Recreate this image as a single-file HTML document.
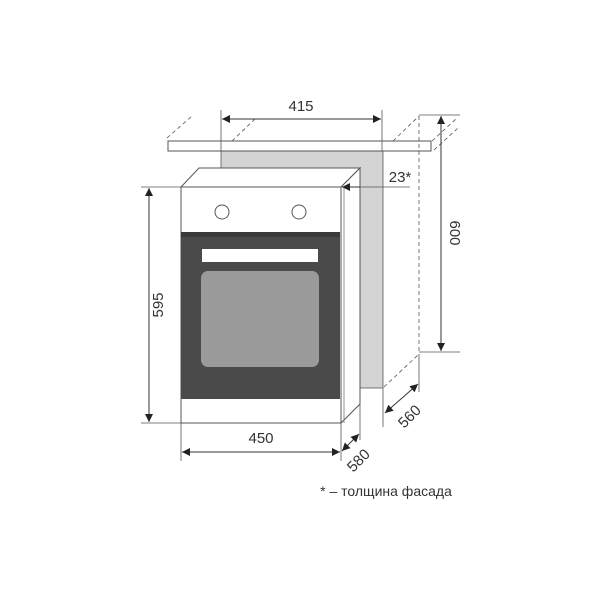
<!DOCTYPE html>
<html><head><meta charset="utf-8"><style>
html,body{margin:0;padding:0;background:#fff;}
svg{display:block}
text{font-family:"Liberation Sans",sans-serif;fill:#333;}
</style></head><body>
<svg width="600" height="600" viewBox="0 0 600 600" xmlns="http://www.w3.org/2000/svg">
<defs>
<marker id="a" viewBox="0 0 10 10" refX="10" refY="5" markerWidth="12" markerHeight="8" orient="auto-start-reverse" markerUnits="userSpaceOnUse"><path d="M0,0 L10,5 L0,10 z" fill="#222"/></marker>
</defs>
<rect x="221" y="151" width="162" height="237" fill="#d4d4d4" stroke="#555" stroke-width="0.8"/>
<rect x="168" y="141" width="263" height="10" fill="#fff" stroke="#555" stroke-width="1"/>
<path d="M181,187 L199,168 L360,168 L341,187 Z" fill="#fff" stroke="#555" stroke-width="1"/>
<path d="M341,187 L360,168 L360,404 L341,423 Z" fill="#fff" stroke="#555" stroke-width="1"/>
<line x1="344" y1="187" x2="344" y2="423" stroke="#777" stroke-width="0.8"/>
<rect x="181" y="187" width="160" height="236" fill="#fff" stroke="#555" stroke-width="1"/>
<circle cx="222" cy="212" r="7" fill="#fff" stroke="#555" stroke-width="1"/>
<circle cx="299" cy="212" r="7" fill="#fff" stroke="#555" stroke-width="1"/>
<rect x="181" y="232" width="159" height="167" fill="#4a4a4a"/>
<rect x="181" y="232" width="159" height="5" fill="#3a3a3a"/>
<rect x="202" y="249" width="116" height="13" fill="#fff"/>
<rect x="201" y="271" width="118" height="96" rx="7" fill="#9a9a9a"/>
<g stroke="#555" stroke-width="0.8" stroke-dasharray="4,3" fill="none">
<line x1="167" y1="138" x2="192" y2="116"/>
<line x1="232" y1="141" x2="257" y2="117"/>
<line x1="393" y1="141" x2="419" y2="116"/>
<line x1="432" y1="141" x2="457" y2="118"/>
<line x1="434" y1="150" x2="458" y2="128"/>
<line x1="419" y1="116" x2="419" y2="352"/>
<line x1="384" y1="387" x2="419" y2="354"/>
</g>
<g stroke="#555" stroke-width="0.8">
<line x1="221" y1="110" x2="221" y2="151"/>
<line x1="382" y1="110" x2="382" y2="151"/>
<line x1="141" y1="187" x2="181" y2="187"/>
<line x1="141" y1="423" x2="181" y2="423"/>
<line x1="419" y1="115" x2="460" y2="115"/>
<line x1="419" y1="352" x2="460" y2="352"/>
<line x1="181" y1="423" x2="181" y2="461"/>
<line x1="341" y1="423" x2="341" y2="461"/>
<line x1="360" y1="404" x2="360" y2="440"/>
<line x1="383" y1="388" x2="383" y2="427"/>
<line x1="419" y1="354" x2="419" y2="392"/>
<line x1="360" y1="187" x2="410" y2="187"/>
</g>
<g stroke="#333" stroke-width="1" fill="none">
<line x1="222" y1="119" x2="381" y2="119" marker-start="url(#a)" marker-end="url(#a)"/>
<line x1="149" y1="188" x2="149" y2="422" marker-start="url(#a)" marker-end="url(#a)"/>
<line x1="441" y1="116" x2="441" y2="351" marker-start="url(#a)" marker-end="url(#a)"/>
<line x1="182" y1="452" x2="340" y2="452" marker-start="url(#a)" marker-end="url(#a)"/>
<line x1="342" y1="451" x2="359" y2="434" marker-start="url(#a)" marker-end="url(#a)"/>
<line x1="385" y1="413" x2="418" y2="384" marker-start="url(#a)" marker-end="url(#a)"/>
<line x1="360" y1="187" x2="342" y2="187" marker-end="url(#a)"/>
</g>
<text x="301" y="111" font-size="15" text-anchor="middle">415</text>
<text x="400" y="182" font-size="15" text-anchor="middle">23*</text>
<text x="261" y="443" font-size="15" text-anchor="middle">450</text>
<text transform="translate(163,305) rotate(-90)" font-size="15" text-anchor="middle">595</text>
<text transform="translate(450,233) rotate(90)" font-size="15" text-anchor="middle">600</text>
<text transform="translate(362,464) rotate(-45)" font-size="15" text-anchor="middle">580</text>
<text transform="translate(413,420) rotate(-45)" font-size="15" text-anchor="middle">560</text>
<text x="386" y="496" font-size="14" text-anchor="middle">* – толщина фасада</text>
</svg>
</body></html>
